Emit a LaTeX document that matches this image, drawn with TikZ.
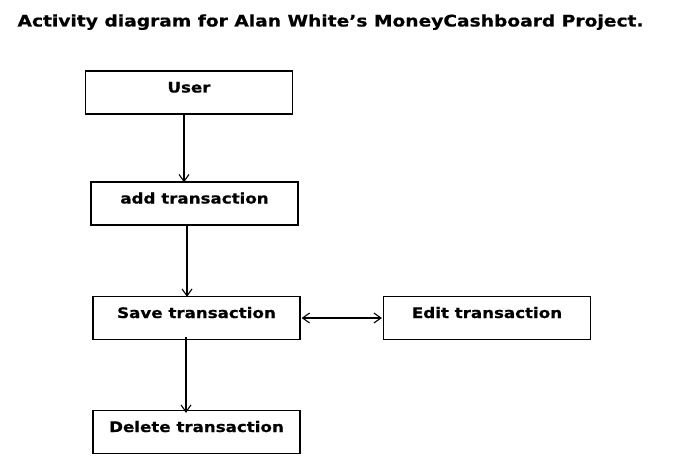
\documentclass[tikz,border=0pt]{standalone}
\usepackage{fontspec}
\setmainfont{DejaVu Sans}[FakeStretch=1.15, BoldFeatures={FakeBold=0.6}]
\usetikzlibrary{arrows.meta}
\tikzset{
  box/.style={draw, line width=1.3pt, minimum width=207pt, minimum height=43pt, inner sep=0pt,
    font=\bfseries\fontsize{14.5pt}{16pt}\selectfont, text height=21.5pt, text depth=21.5pt},
  tip/.tip={Straight Barb[length=7pt,width=10pt,line width=1.1pt]},
  arr/.style={line width=1.1pt, -tip},
  darr/.style={line width=1.1pt, tip-tip}
}
\begin{document}
\begin{tikzpicture}[x=1pt,y=-1pt]
\useasboundingbox (0,0) rectangle (674,476);
\node[font=\bfseries\fontsize{16pt}{18pt}\selectfont\addfontfeature{FakeStretch=1.165}, anchor=base, inner sep=0pt] (title) at (330.5,26.5) {Activity diagram for Alan White’s MoneyCashboard Project.};
\node[box] (user) at (189,92.5) {User};
\node[box] (add) at (194.5,203.5) {add transaction};
\node[box] (save) at (196.5,318) {Save transaction};
\node[box] (edit) at (487,318) {Edit transaction};
\node[box] (del) at (196.5,432) {Delete transaction};
\draw[arr] ([xshift=-5pt]user.south) -- ([xshift=-10.5pt,yshift=-1pt]add.north);
\draw[arr] ([xshift=-7.5pt,yshift=2pt]add.south) -- ([xshift=-9.5pt,yshift=-1pt]save.north);
\draw[arr] ([xshift=-10.5pt,yshift=3pt]save.south) -- ([xshift=-10.5pt,yshift=-3pt]del.north);
\draw[darr] ([xshift=1pt]save.east) -- ([xshift=-1pt]edit.west);
\end{tikzpicture}
\end{document}
